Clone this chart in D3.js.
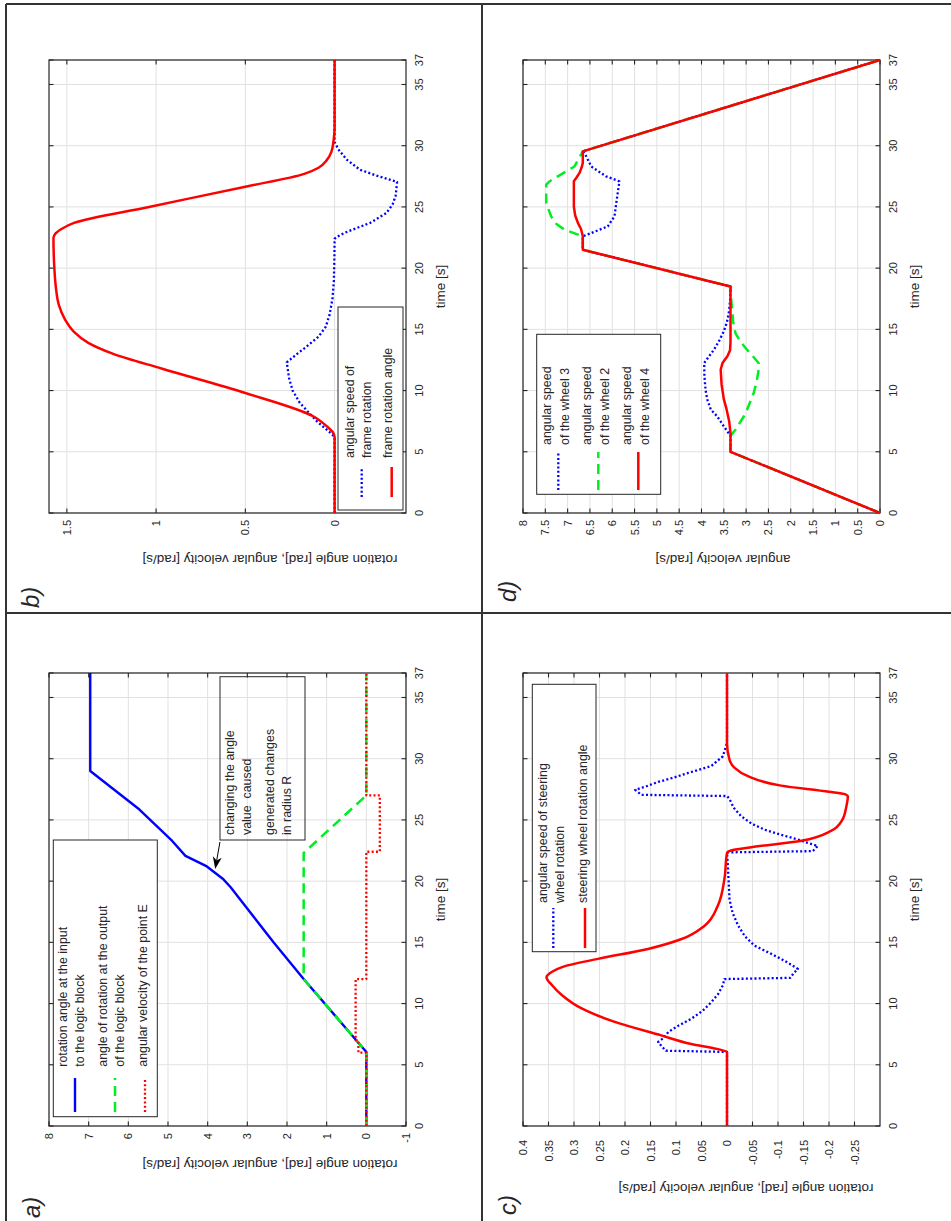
<!DOCTYPE html>
<html>
<head>
<meta charset="utf-8">
<script src="https://cdn.jsdelivr.net/npm/d3@7"></script>
<style>
  body { margin: 0; background: #fff; }
  text { font-family: "Liberation Sans", Arial, Helvetica, sans-serif; fill: #262626; }
</style>
</head>
<body>
<svg id="fig" width="951" height="1221"></svg>
<script>
// DATA

const timeTicks = [0, 5, 10, 15, 20, 25, 30, 35, 37];
const aValueTicks = [-1, 0, 1, 2, 3, 4, 5, 6, 7, 8];
const bValueTicks = [0, 0.5, 1, 1.5];
const cValueTicks = [-0.25, -0.2, -0.15, -0.1, -0.05, 0, 0.05, 0.1, 0.15, 0.2, 0.25, 0.3, 0.35, 0.4];
const dValueTicks = [0, 0.5, 1, 1.5, 2, 2.5, 3, 3.5, 4, 4.5, 5, 5.5, 6, 6.5, 7, 7.5, 8];

// a) logic block
const aInputAngle = [[0, 0], [6.05, 0], [12, 1.58], [15, 2.34], [18.5, 3.18], [19.5, 3.42], [20.2, 3.62],
  [21.2, 4.02], [22.06, 4.56], [23.3, 4.9], [25.85, 5.72], [29, 6.96], [37, 6.96]];
const aOutputAngle = [[0, 0], [6.05, 0], [12, 1.58], [22.3, 1.58], [27, 0], [37, 0]];
const aPointVel = [[0, 0], [6, 0], [6, 0.2], [7, 0.2], [7, 0.27], [12, 0.27], [12, 0], [22.4, 0],
  [22.4, -0.34], [27, -0.34], [27, 0], [37, 0]];

// b) frame
const bFrameSpeed = [[0, 0], [6.2, 0], [6.5, 0.02], [7, 0.06], [7.5, 0.1], [8.2, 0.145], [9, 0.195],
  [10, 0.235], [11, 0.255], [12.3, 0.268], [13, 0.21], [13.5, 0.165], [14.4, 0.09], [15.2, 0.05],
  [16.2, 0.028], [17.5, 0.012], [19, 0.004], [21, 0.001], [22.4, 0], [22.7, -0.03], [23, -0.075],
  [23.7, -0.2], [24.5, -0.29], [25.2, -0.325], [25.9, -0.342], [27.05, -0.35], [27.55, -0.236],
  [28.04, -0.142], [28.86, -0.068], [29.7, -0.021], [30.3, 0], [37, 0]];
const bFrameAngle = [[0, 0], [6.2, 0], [6.6, 0.01], [7.1, 0.045], [7.9, 0.12], [9.8, 0.5], [11.8, 0.97],
  [13, 1.24], [13.9, 1.38], [14.8, 1.46], [15.8, 1.51], [17, 1.545], [18.5, 1.562], [20, 1.57],
  [22.4, 1.575], [22.8, 1.565], [23.2, 1.53], [23.7, 1.46], [25, 1.04], [26.65, 0.5], [27.7, 0.17],
  [28.2, 0.09], [28.8, 0.045], [29.5, 0.018], [30.5, 0.005], [31.5, 0], [37, 0]];

// c) steering wheel
const cWheelSpeed = [[0, 0], [6.05, 0], [6.15, 0.12], [6.5, 0.128], [6.86, 0.135], [7.2, 0.124],
  [7.68, 0.115], [8.2, 0.095], [8.76, 0.07], [9.4, 0.048], [10.1, 0.031], [10.8, 0.017], [11.5, 0.008],
  [12, 0.005], [12.1, -0.124], [12.5, -0.131], [12.83, -0.139], [13.2, -0.125], [13.65, -0.106],
  [14.2, -0.08], [14.73, -0.054], [15.5, -0.035], [16.36, -0.022], [17.4, -0.011], [18.5, -0.005],
  [21, -0.002], [22.35, 0], [22.45, -0.168], [22.87, -0.178], [23.1, -0.16], [23.4, -0.139],
  [23.8, -0.105], [24.2, -0.074], [24.7, -0.048], [25.3, -0.028], [26, -0.013], [26.7, -0.005],
  [26.95, 0], [27.05, 0.168], [27.45, 0.18], [27.75, 0.158], [28.1, 0.135], [28.45, 0.105],
  [28.84, 0.076], [29.4, 0.031], [30.2, 0.008], [31.3, 0], [37, 0]];
const cWheelAngle = [[0, 0], [6.05, 0], [6.3, 0.02], [6.7, 0.07], [7.4, 0.129], [8.5, 0.22], [9.6, 0.285],
  [10.7, 0.324], [11.5, 0.343], [12.15, 0.354], [12.6, 0.343], [13, 0.322], [13.65, 0.253],
  [14.46, 0.155], [15.27, 0.089], [16.36, 0.044], [18, 0.018], [20.2, 0.005], [22.3, 0], [22.5, -0.008],
  [22.75, -0.045], [23.3, -0.146], [24.1, -0.204], [25, -0.226], [26.1, -0.234], [26.9, -0.237],
  [27.1, -0.231], [27.3, -0.2], [27.8, -0.106], [28.57, -0.041], [29.25, -0.015], [29.9, -0.005],
  [31.3, 0], [37, 0]];

// d) wheels
const dWheel3 = [[0, 0], [5, 3.35], [6.3, 3.35], [7.08, 3.5], [7.9, 3.65], [8.44, 3.79], [9.26, 3.87],
  [10.07, 3.91], [11.2, 3.935], [12.25, 3.94], [12.8, 3.83], [13.34, 3.72], [14.1, 3.6], [14.84, 3.5],
  [15.6, 3.43], [16.3, 3.39], [17.3, 3.36], [18.5, 3.35], [21.5, 6.66], [22.6, 6.66], [22.87, 6.47],
  [23.41, 6.1], [24.23, 5.95], [25.32, 5.91], [27.09, 5.84], [27.5, 6.14], [28.3, 6.47], [29.4, 6.62],
  [29.54, 6.66], [37, 0]];
const dWheel2 = [[0, 0], [5, 3.35], [6.3, 3.35], [6.8, 3.24], [7.9, 3.05], [8.44, 2.98], [9.8, 2.83],
  [10.8, 2.76], [11.7, 2.72], [12.25, 2.72], [12.8, 2.85], [13.34, 2.98], [14, 3.13], [14.7, 3.24],
  [15.6, 3.29], [16.6, 3.31], [17.6, 3.34], [18.5, 3.35], [21.5, 6.66], [22.6, 6.66], [23.14, 7.07],
  [23.6, 7.25], [24.23, 7.37], [25.32, 7.48], [26.82, 7.48], [27.1, 7.4], [27.5, 7.22], [28.3, 6.85],
  [29.0, 6.74], [29.54, 6.66], [37, 0]];
const dWheel4 = [[0, 0], [5, 3.35], [6.5, 3.35], [7.5, 3.38], [8.5, 3.44], [9.3, 3.5], [10.5, 3.55],
  [11.7, 3.57], [12.25, 3.53], [12.8, 3.42], [13.3, 3.36], [14, 3.35], [18.5, 3.35], [21.5, 6.66],
  [22.6, 6.66], [23.2, 6.7], [23.7, 6.77], [24.3, 6.83], [25, 6.86], [27.1, 6.86], [27.4, 6.8],
  [27.8, 6.73], [28.3, 6.68], [28.6, 6.66], [29.54, 6.66], [37, 0]];

const aLegend = [["rotation angle at the input", "to the logic block"],
  ["angle of rotation at the output", "of the logic block"], ["angular velocity of the point E"]];
const bLegend = [["angular speed of", "frame rotation"], ["frame rotation angle"]];
const cLegend = [["angular speed of steering", "wheel rotation"], ["steering wheel rotation angle"]];
const dLegend = [["angular speed", "of the wheel 3"], ["angular speed", "of the wheel 2"],
  ["angular speed", "of the wheel 4"]];

const aNoteLines = ["changing the angle", "value  caused", "generated changes", "in radius R"];
const aNoteArrow = [[23.2, 3.69], [21.0, 3.81]];

const fullLabel = "rotation angle [rad], angular velocity [rad/s]";
const speedLabel = "angular velocity [rad/s]";

// STYLES

const STYLES = {
  redSolid:  { stroke: "#ff0000", width: 2.5, dash: null },
  blueSolid: { stroke: "#0000ff", width: 2.4, dash: null },
  blueDot:   { stroke: "#0000ff", width: 2.3, dash: "2,2.3" },
  redDot:    { stroke: "#ff0000", width: 2.3, dash: "2,2.3" },
  greenDash: { stroke: "#00ee22", width: 2.5, dash: "10,6" }
};

const PW = 453, PH = 357;   // time length, value length (before rotation)
const svg = d3.select("#fig");

// frame round the four panels
const frame = [[6, 4, 6, 1221], [6, 4, 951, 4], [482, 4, 482, 1221], [6, 613, 951, 613]];
svg.selectAll("line.frame").data(frame).join("line")
  .attr("x1", d => d[0]).attr("y1", d => d[1]).attr("x2", d => d[2]).attr("y2", d => d[3])
  .attr("stroke", "#333").attr("stroke-width", 2);

const panels = [
  { tag: "a)", sx: 49, sy: 1126, domain: [-1, 8], ticks: aValueTicks, gap: 7, tagPos: [-92, -17],
    ylabel: fullLabel, yOff: 38, yMid: 221,
    series: [[aInputAngle, "blueSolid"], [aOutputAngle, "greenDash"], [aPointVel, "redDot"]],
    names: aLegend,
    legend: { box: [9.3, 286, 4.3, 108.3], mark: [14, 48], tx: 59.3,
      ty: [[14.3, 31], [54.3, 71], [94.3]], my: [26, 66, 96] },
    note: true },
  { tag: "b)", sx: 49, sy: 513, domain: [-0.4, 1.6], ticks: bValueTicks, gap: 7, tagPos: [-95, -18],
    ylabel: fullLabel, yOff: 46, yMid: 221,
    series: [[bFrameSpeed, "blueDot"], [bFrameAngle, "redSolid", true]],
    names: bLegend,
    legend: { box: [3, 206, 289, 354], mark: [16, 46], tx: 55,
      ty: [[301, 317.7], [339.3]], my: [312.7, 342.7] } },
  { tag: "c)", sx: 523, sy: 1126, domain: [-0.3, 0.4], ticks: cValueTicks, gap: 14, tagPos: [-89, -15],
    ylabel: fullLabel, yOff: 62, yMid: 223,
    series: [[cWheelSpeed, "blueDot"], [cWheelAngle, "redSolid", true]],
    names: cLegend,
    legend: { box: [174.3, 441.7, 9.3, 73], mark: [178, 218], tx: 223,
      ty: [[20.3, 37], [60.3]], my: [30.3, 62] } },
  { tag: "d)", sx: 523, sy: 513, domain: [0, 8], ticks: dValueTicks, gap: 7, tagPos: [-89, -15],
    ylabel: speedLabel, yOff: 46, yMid: 200,
    series: [[dWheel3, "blueDot"], [dWheel2, "greenDash"], [dWheel4, "redSolid"]],
    names: dLegend,
    legend: { box: [18.7, 178.7, 13.7, 137.7], mark: [23, 61], tx: 68,
      ty: [[23.7, 42], [63.7, 82], [103.7, 122]], my: [35.3, 75.3, 115.3] } }
];

function applyStyle(sel, st) {
  sel.attr("fill", "none").attr("stroke", st.stroke).attr("stroke-width", st.width)
    .attr("stroke-linejoin", "round");
  if (st.dash) sel.attr("stroke-dasharray", st.dash);
  return sel;
}

function drawPanel(p) {
  // the figure is stored turned a quarter turn, so each panel is drawn upright and rotated
  const g = svg.append("g").attr("transform", `translate(${p.sx},${p.sy}) rotate(-90)`);
  const x = d3.scaleLinear().domain([0, 37]).range([0, PW]);
  const y = d3.scaleLinear().domain(p.domain).range([PH, 0]);

  // grid
  g.append("g").selectAll("line").data(timeTicks).join("line")
    .attr("x1", d => x(d)).attr("x2", d => x(d)).attr("y1", 0).attr("y2", PH)
    .attr("stroke", "#e1e1e1").attr("stroke-width", 1);
  g.append("g").selectAll("line").data(p.ticks).join("line")
    .attr("x1", 0).attr("x2", PW).attr("y1", d => y(d)).attr("y2", d => y(d))
    .attr("stroke", "#e1e1e1").attr("stroke-width", 1);

  // box + inward ticks on every side
  g.append("rect").attr("width", PW).attr("height", PH)
    .attr("fill", "none").attr("stroke", "#262626").attr("stroke-width", 1.2);
  const tk = 4.5;
  const ticks = g.append("g").attr("stroke", "#262626").attr("stroke-width", 1.1);
  timeTicks.forEach(t => {
    ticks.append("line").attr("x1", x(t)).attr("x2", x(t)).attr("y1", PH).attr("y2", PH - tk);
    ticks.append("line").attr("x1", x(t)).attr("x2", x(t)).attr("y1", 0).attr("y2", tk);
  });
  p.ticks.forEach(v => {
    ticks.append("line").attr("x1", 0).attr("x2", tk).attr("y1", y(v)).attr("y2", y(v));
    ticks.append("line").attr("x1", PW).attr("x2", PW - tk).attr("y1", y(v)).attr("y2", y(v));
  });

  // tick labels
  g.append("g").selectAll("text").data(timeTicks).join("text")
    .attr("x", d => x(d)).attr("y", PH + 16.5).attr("text-anchor", "middle")
    .attr("font-size", 11).text(d => d);
  g.append("g").selectAll("text").data(p.ticks).join("text")
    .attr("x", -p.gap).attr("y", d => y(d) + 4).attr("text-anchor", "end")
    .attr("font-size", 11).text(d => String(d));

  // axis labels
  g.append("text").attr("x", PW / 2).attr("y", PH + 39).attr("text-anchor", "middle")
    .attr("font-size", 13.5).text("time [s]");
  g.append("text").attr("transform", `translate(${-p.yOff + 4},${p.yMid}) rotate(-90)`)
    .attr("text-anchor", "middle").attr("font-size", 13.5).text(p.ylabel);

  // panel tag
  g.append("text").attr("x", p.tagPos[0]).attr("y", p.tagPos[1] + 8)
    .attr("font-size", 24).attr("font-style", "italic").text(p.tag);

  // series
  p.series.forEach(([data, key, smooth]) => {
    const line = d3.line().x(d => x(d[0])).y(d => y(d[1]))
      .curve(smooth ? d3.curveMonotoneX : d3.curveLinear);
    applyStyle(g.append("path").attr("d", line(data)), STYLES[key]);
  });

  // legend
  const L = p.legend;
  g.append("rect").attr("x", L.box[0]).attr("y", L.box[2])
    .attr("width", L.box[1] - L.box[0]).attr("height", L.box[3] - L.box[2])
    .attr("fill", "#fff").attr("stroke", "#262626").attr("stroke-width", 1);
  p.names.forEach((lines, i) => {
    lines.forEach((s, j) => {
      g.append("text").attr("x", L.tx).attr("y", L.ty[i][j] + 4)
        .attr("font-size", 12.4).text(s);
    });
    applyStyle(g.append("line").attr("x1", L.mark[0]).attr("x2", L.mark[1])
      .attr("y1", L.my[i]).attr("y2", L.my[i]), STYLES[p.series[i][1]]);
  });

  if (p.note) drawNote(g, x, y);
}

function drawNote(g, x, y) {
  g.append("rect").attr("x", 286).attr("y", 171).attr("width", 163.3).attr("height", 85)
    .attr("fill", "none").attr("stroke", "#262626").attr("stroke-width", 1);
  const ly = [181, 197.7, 221, 237.7];
  aNoteLines.forEach((s, i) => {
    g.append("text").attr("x", 291).attr("y", ly[i] + 4).attr("font-size", 12.4)
      .attr("xml:space", "preserve").style("white-space", "pre").text(s);
  });
  const p0 = [x(aNoteArrow[0][0]), y(aNoteArrow[0][1])];
  const p1 = [x(aNoteArrow[1][0]), y(aNoteArrow[1][1])];
  const a = Math.atan2(p1[1] - p0[1], p1[0] - p0[0]);
  const ux = Math.cos(a), uy = Math.sin(a), L = 12, W = 4.5;
  const notch = [p1[0] - (L - 3.5) * ux, p1[1] - (L - 3.5) * uy];
  g.append("line").attr("x1", p0[0]).attr("y1", p0[1]).attr("x2", notch[0]).attr("y2", notch[1])
    .attr("stroke", "#000").attr("stroke-width", 1);
  const pts = [p1,
    [p1[0] - L * ux - W * uy, p1[1] - L * uy + W * ux],
    notch,
    [p1[0] - L * ux + W * uy, p1[1] - L * uy - W * ux]];
  g.append("polygon").attr("points", pts.map(q => q.join(",")).join(" ")).attr("fill", "#000");
}

panels.forEach(drawPanel);
</script>
</body>
</html>
